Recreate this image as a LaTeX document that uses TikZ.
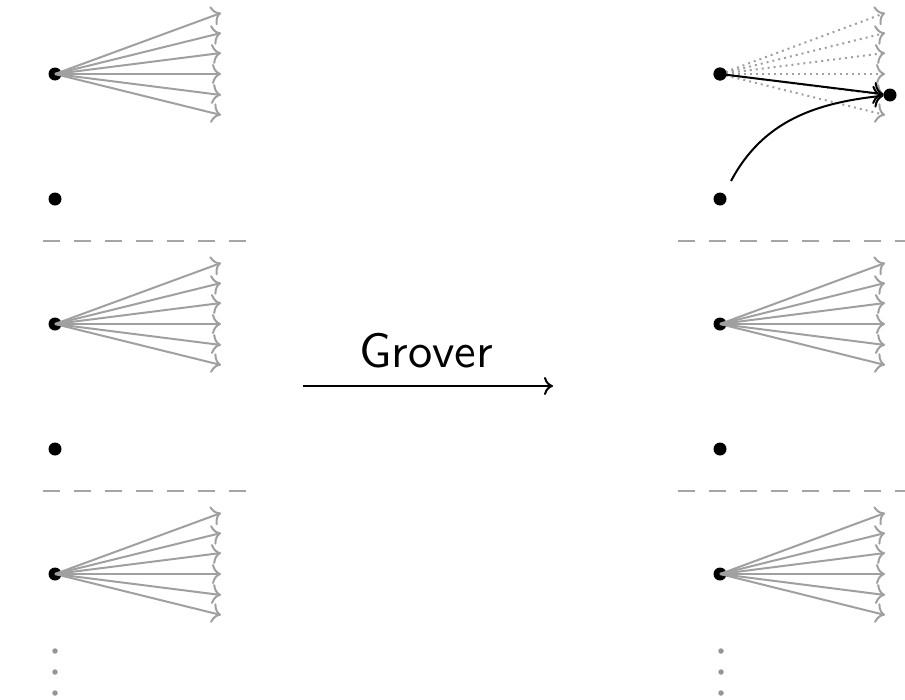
\documentclass[tikz,border=0pt]{standalone}
\usepackage{tikz}
\usetikzlibrary{arrows.meta}
\definecolor{fan}{RGB}{160,160,160}
\definecolor{sep}{RGB}{165,165,165}
\definecolor{ell}{RGB}{150,150,150}
\tikzset{
  dot/.style={circle, fill=black, inner sep=0pt, minimum size=13pt},
  smalldot/.style={circle, fill=ell, inner sep=0pt, minimum size=5.5pt},
  fanarrow/.style={draw=fan, line width=2pt,
    -{Computer Modern Rightarrow[length=9pt,width=20pt]}},
  dimarrow/.style={fanarrow, dash pattern=on 2pt off 4pt},
  markarrow/.style={draw=black, line width=2pt,
    -{Computer Modern Rightarrow[length=10pt,width=22pt]}},
  bigarrow/.style={draw=black, line width=2pt,
    -{Computer Modern Rightarrow[length=9pt,width=18pt]}},
  separator/.style={draw=sep, line width=2.2pt, dash pattern=on 17pt off 14pt},
}
\begin{document}
\begin{tikzpicture}[x=1pt,y=-1pt]
\useasboundingbox (0,0) rectangle (905,699);

% fans of possible moves, one per row and side
\foreach \side/\sx/\tx in {L/55/221, R/720/885}{
  \foreach \row/\ry in {1/74, 2/324, 3/574}{
    \node[dot] (src\side\row) at (\sx,\ry) {};
    \foreach \k/\off in {1/-61, 2/-41, 3/-21, 4/0, 5/21, 6/41}{
      \coordinate (tip\side\row\k) at (\tx,\ry+\off);
    }
  }
}

% left side: every fan drawn in full
\foreach \row in {1,2,3}{
  \foreach \k in {1,...,6}{
    \draw[fanarrow] (srcL\row.center) -- (tipL\row\k);
  }
}
% right side: rows 2 and 3 unchanged
\foreach \row in {2,3}{
  \foreach \k in {1,...,6}{
    \draw[fanarrow] (srcR\row.center) -- (tipR\row\k);
  }
}
% right side, row 1: fan faded out
\foreach \k in {1,...,6}{
  \draw[dimarrow] (srcR1.center) -- (tipR1\k);
}
\node[dot] (srcR1) at (720,74) {};

% lone points under each fan
\node[dot] (auxL1) at (55,199) {};
\node[dot] (auxL2) at (55,449) {};
\node[dot] (auxR1) at (720,199) {};
\node[dot] (auxR2) at (720,449) {};

% marked target and the two moves reaching it
\node[dot] (goal) at (890,95) {};
\coordinate (bend) at (731,181);
\draw[markarrow] (srcR1.center) -- (goal);
\draw[markarrow] (bend) to[out=62, in=186] (goal);

% separators between rows
\draw[separator] (43,241) coordinate (sepL1) -- (250,241) coordinate (sepL1e);
\draw[separator] (43,491) coordinate (sepL2) -- (250,491) coordinate (sepL2e);
\draw[separator] (678,241) coordinate (sepR1) -- (905,241) coordinate (sepR1e);
\draw[separator] (678,491) coordinate (sepR2) -- (905,491) coordinate (sepR2e);

% vertical ellipses
\foreach \y [count=\i] in {651,672,693}{
  \node[smalldot] (vdL\i) at (55,\y) {};
  \node[smalldot] (vdR\i) at (721,\y) {};
}

% the transformation arrow
\coordinate (gfrom) at (303,386);
\coordinate (gto) at (553,386);
\draw[bigarrow] (gfrom) -- (gto);
\node[anchor=base, inner sep=0pt]
  (glabel) at (426,367) {\scalebox{4.85}{\sffamily\normalsize Grover}};
\end{tikzpicture}
\end{document}
